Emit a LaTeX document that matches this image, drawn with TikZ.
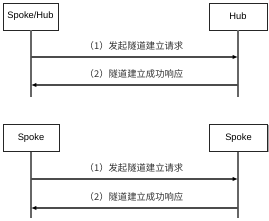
\documentclass[tikz,border=0pt]{standalone}
\usepackage{fontspec}
\setmainfont{Liberation Sans}
\newfontfamily\cjk{Noto Sans CJK SC}
\usetikzlibrary{arrows.meta,shadows}
\begin{document}
\begin{tikzpicture}[x=0.75pt,y=-0.75pt,
  obj/.style={draw=black!85, line width=0.6pt, fill=white, minimum height=20.25pt, inner sep=0pt,
    font=\fontsize{7}{8}\selectfont,
    drop shadow={shadow xshift=0.7pt, shadow yshift=-0.7pt, fill=black!35, opacity=1}},
  life/.style={draw=black!60, line width=0.9pt},
  msg/.style={draw=black!70, line width=0.9pt, -{Latex[length=4pt,width=3.2pt,black]}},
  lbl/.style={font=\cjk\fontsize{7}{8}\selectfont, text=black!80, inner sep=0pt}]
\useasboundingbox (0,0) rectangle (269,221);
% top pair
\node[obj, minimum width=41.25pt] (A) at (30.5,16.5) {Spoke/Hub};
\node[obj, minimum width=43.5pt] (B) at (238,16.5) {Hub};
\coordinate (Aend) at (31,97);
\coordinate (Bend) at (238,97);
\draw[life] (A.south -| Aend) -- (Aend);
\draw[life] (B.south -| Bend) -- (Bend);
\coordinate (a1) at (31,57);
\coordinate (b1) at (238,57);
\coordinate (a2) at (31,85);
\coordinate (b2) at (238,85);
\draw[msg] (a1) -- (b1);
\draw[msg] (b2) -- (a2);
\node[lbl] (t1) at (134,46) {（1）发起隧道建立请求};
\node[lbl] (t2) at (134,74) {（2）隧道建立成功响应};
% bottom pair
\node[obj, minimum width=42pt] (C) at (31,138) {Spoke};
\node[obj, minimum width=44pt] (D) at (238.5,138) {Spoke};
\coordinate (Cend) at (31,218);
\coordinate (Dend) at (238,218);
\draw[life] (C.south -| Cend) -- (Cend);
\draw[life] (D.south -| Dend) -- (Dend);
\coordinate (c1) at (31,179);
\coordinate (d1) at (238,179);
\coordinate (c2) at (31,208);
\coordinate (d2) at (238,208);
\draw[msg] (c1) -- (d1);
\draw[msg] (d2) -- (c2);
\node[lbl] (t3) at (134,168) {（1）发起隧道建立请求};
\node[lbl] (t4) at (134,197) {（2）隧道建立成功响应};
\end{tikzpicture}
\end{document}
